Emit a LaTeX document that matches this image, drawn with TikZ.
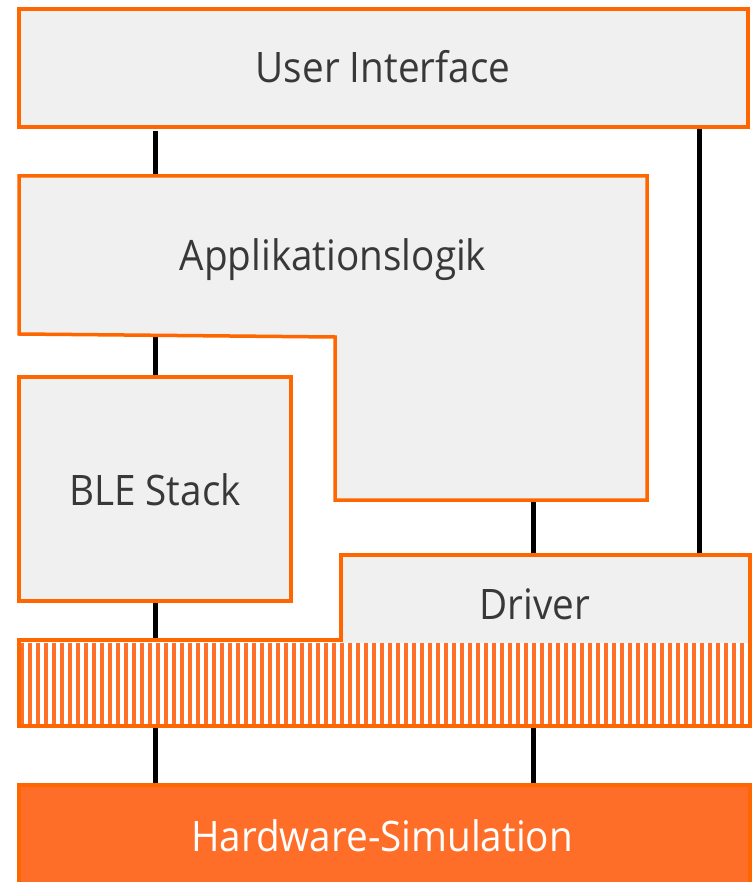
\documentclass[tikz,border=0pt]{standalone}
\usepackage{fontspec}
\setmainfont{Open Sans}[FakeStretch=0.92]
\definecolor{frame}{HTML}{FF6600}
\definecolor{boxfill}{HTML}{F0F0F0}
\definecolor{hwfill}{HTML}{FF6E28}
\definecolor{stripe}{HTML}{FF7028}
\definecolor{txt}{HTML}{383838}

\begin{document}
\begin{tikzpicture}[x=1pt,y=-1pt,
  layer/.style={draw=frame, fill=boxfill, line width=3.5pt, line join=miter},
  link/.style={draw=black, line width=5pt},
  caption/.style={text=txt, font=\fontsize{42}{48}\selectfont, inner sep=0pt, anchor=base}]
\useasboundingbox (0,0) rectangle (752,882);

% connector end points
\coordinate (uiL)  at (155,131);
\coordinate (appT) at (155,176);
\coordinate (uiR)  at (699,129);
\coordinate (drvR) at (699,555);
\coordinate (appL) at (155,337);
\coordinate (bleT) at (155,377);
\coordinate (appB) at (533,501);
\coordinate (drvT) at (533,555);
\coordinate (bleB) at (155,602);
\coordinate (busT) at (155,640);
\coordinate (busL) at (155,727);
\coordinate (hwL)  at (155,785);
\coordinate (busR) at (533,727);
\coordinate (hwR)  at (533,785);

% vertical connections between the layers
\draw[link] (uiL) -- (appT);
\draw[link] (uiR) -- (drvR);
\draw[link] (appL) -- (bleT);
\draw[link] (appB) -- (drvT);
\draw[link] (bleB) -- (busT);
\draw[link] (busL) -- (hwL);
\draw[link] (busR) -- (hwR);

% user interface
\path[layer] (19,9) rectangle (748,127);
\node[caption] (ui) at (383,83) {User Interface};

% application logic (L-shaped block)
\path[layer] (19,176) -- (647,176) -- (647,500) -- (335,500) -- (335,337) -- (19,334) -- cycle;
\node[caption] (app) at (333,271) {Applikationslogik};

% BLE stack
\path[layer] (19,377) rectangle (291,601);
\node[caption] (ble) at (155,505) {BLE Stack};

% driver with the striped interface band below it
\fill[boxfill] (341,555) rectangle (750,643);
\foreach \x in {20,28,...,748} {
  \fill[stripe] (\x,643) rectangle ({\x+4},724);
}
\draw[frame, line width=3.5pt, line join=miter]
  (19,726) -- (19,640) -- (341,640) -- (341,555) -- (750,555) -- (750,726) -- cycle;
\node[caption] (drv) at (535,619) {Driver};

% hardware simulation
\path[draw=frame, fill=hwfill, line width=3.5pt] (19,785) rectangle (750,892);
\node[caption, text=white] (hw) at (382,851) {Hardware-Simulation};
\end{tikzpicture}
\end{document}
